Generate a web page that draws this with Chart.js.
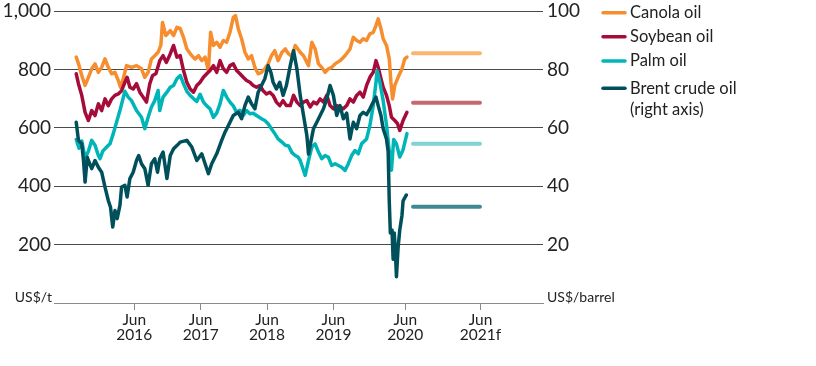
<!DOCTYPE html>
<html>
<head>
<meta charset="utf-8">
<script src="https://cdn.jsdelivr.net/npm/chart.js@4"></script>
<style>
  html, body { margin: 0; padding: 0; background: #fff; }
  #wrap { width: 816px; height: 366px; }
</style>
</head>
<body>
<div id="wrap"><canvas id="oils" width="816" height="366"></canvas></div>
<script>
// x values are months counted from Jan 2015 (0 = Jan 2015)
var tickPos = [17, 29, 41, 53, 66, 79.6];
var tickLabels = [['Jun', '2016'], ['Jun', '2017'], ['Jun', '2018'], ['Jun', '2019'], ['Jun', '2020'], ['Jun', '2021f']];

var canolaX = [6.5, 6.9, 7.5, 8.1, 8.7, 9.3, 9.9, 10.5, 11.1, 11.7, 12.3, 12.9, 13.5, 14.1, 14.5, 15.0, 15.6, 16.5, 17.4, 18.3,
    18.9, 19.5, 20.1, 20.7, 21.3, 21.8, 22.1, 22.7, 23.5, 24.1, 24.7, 25.3, 25.9, 26.5, 27.4, 28.0, 28.6, 29.2, 29.8, 30.4,
    30.8, 31.3, 31.9, 32.5, 33.1, 33.7, 34.3, 34.9, 35.3, 35.8, 36.4, 37.0, 37.6, 38.2, 38.8, 39.4, 40.0, 40.6, 41.2, 41.8,
    42.4, 43.0, 43.7, 44.3, 44.9, 45.5, 46.1, 47.0, 47.6, 48.5, 49.1, 49.7, 50.3, 50.9, 51.5, 52.1, 52.7, 53.3, 54.2, 55.1,
    56.0, 56.6, 57.2, 57.8, 58.4, 59.0, 59.6, 60.2, 60.7, 61.1, 61.6, 62.0, 62.6, 63.1, 63.4, 63.7, 64.1, 64.7, 65.4, 65.9, 66.3];
var canolaY = [842, 820, 779, 745, 773, 802, 819, 790, 807, 836, 807, 785, 790, 762, 739, 768, 813, 807, 813, 802,
    773, 790, 836, 847, 859, 882, 961, 916, 933, 916, 944, 940, 910, 870, 847, 836, 847, 830, 842, 796,
    927, 882, 893, 876, 899, 893, 927, 978, 984, 939, 905, 859, 836, 847, 807, 785, 790, 802, 819, 847,
    864, 830, 859, 870, 853, 845, 882, 859, 847, 813, 893, 870, 819, 807, 790, 802, 807, 819, 830, 847,
    870, 910, 899, 893, 905, 899, 922, 927, 950, 973, 939, 905, 882, 836, 756, 699, 745, 773, 802, 836, 842];

var soyX = [6.5, 6.9, 7.5, 8.1, 8.7, 9.3, 9.9, 10.5, 11.1, 11.7, 12.3, 12.9, 13.5, 14.1, 14.7, 15.3, 15.7, 16.2, 16.8, 17.4,
    18.0, 18.6, 19.2, 19.8, 20.3, 20.9, 21.6, 22.2, 22.8, 23.5, 24.1, 24.7, 25.3, 25.9, 26.5, 27.1, 27.7, 28.3, 28.9, 29.5,
    30.1, 30.7, 31.3, 31.9, 32.5, 33.1, 33.7, 34.3, 34.9, 35.5, 36.1, 36.7, 37.3, 37.9, 38.5, 39.1, 39.7, 40.3, 40.9, 41.5,
    42.1, 42.7, 43.3, 43.9, 44.5, 45.2, 45.8, 46.4, 47.0, 47.6, 48.2, 48.8, 49.4, 50.0, 50.6, 51.2, 51.8, 52.4, 53.0, 53.6,
    54.2, 54.8, 55.4, 56.0, 56.6, 57.2, 57.8, 58.4, 59.0, 59.6, 60.2, 60.7, 61.1, 61.6, 62.0, 62.6, 63.1, 63.5, 64.1, 64.6,
    65.0, 65.6, 66.3];
var soyY = [785, 751, 711, 653, 625, 659, 642, 682, 659, 699, 676, 699, 711, 716, 727, 756, 773, 739, 733, 751,
    722, 705, 688, 751, 779, 785, 830, 847, 824, 853, 882, 842, 847, 796, 756, 733, 722, 745, 756, 773,
    785, 796, 813, 790, 830, 802, 790, 813, 819, 796, 785, 773, 762, 756, 745, 739, 745, 727, 716, 722,
    711, 688, 676, 693, 676, 676, 711, 688, 676, 688, 693, 671, 688, 682, 699, 688, 711, 676, 665, 676,
    671, 665, 676, 699, 688, 711, 722, 705, 745, 773, 790, 830, 807, 768, 739, 711, 676, 636, 625, 614,
    591, 625, 653];

var palmX = [6.5, 7.0, 7.5, 8.1, 8.7, 9.3, 9.9, 10.5, 10.8, 11.3, 12.0, 12.6, 13.2, 13.8, 14.4, 15.3, 15.9, 16.5, 17.4, 18.3,
    18.9, 19.5, 20.1, 20.7, 21.3, 21.6, 22.2, 22.9, 23.5, 24.1, 24.7, 25.3, 25.9, 26.5, 27.1, 27.7, 28.3, 28.9, 29.5, 30.1,
    30.7, 31.3, 31.9, 32.5, 33.1, 33.7, 34.3, 34.9, 35.5, 36.1, 36.7, 37.3, 37.9, 38.5, 39.1, 40.0, 40.6, 41.2, 41.8, 42.4,
    43.0, 43.7, 44.3, 44.9, 45.5, 46.1, 46.6, 47.0, 47.6, 47.9, 48.5, 49.1, 49.7, 50.3, 50.9, 51.5, 52.1, 52.7, 53.3, 53.9,
    54.5, 55.1, 55.7, 56.3, 56.9, 57.5, 58.1, 59.0, 59.6, 60.2, 60.7, 60.9, 61.4, 62.0, 62.6, 63.1, 63.5, 63.9, 64.4, 65.0,
    65.6, 66.3];
var palmY = [560, 530, 555, 497, 520, 557, 540, 505, 494, 520, 534, 545, 580, 620, 659, 725, 705, 693, 659, 636,
    597, 636, 671, 693, 728, 659, 705, 722, 739, 745, 768, 779, 751, 725, 711, 700, 690, 715, 688, 675,
    665, 636, 650, 682, 728, 705, 688, 675, 653, 660, 642, 659, 648, 650, 642, 631, 625, 614, 597, 580,
    562, 551, 540, 538, 515, 505, 500, 488, 454, 437, 488, 534, 545, 517, 494, 505, 499, 471, 477, 471,
    465, 454, 477, 505, 522, 511, 545, 562, 608, 676, 756, 795, 756, 693, 610, 520, 455, 560, 545, 500,
    525, 580];

var brentX = [6.5, 6.9, 7.5, 7.8, 8.1, 8.5, 8.7, 9.3, 9.9, 10.5, 11.1, 11.7, 12.3, 12.7, 13.1, 13.5, 13.9, 14.4, 14.7, 15.3,
    15.7, 16.2, 16.8, 17.4, 17.8, 18.3, 18.9, 19.5, 20.1, 20.7, 21.2, 21.6, 22.2, 22.9, 23.5, 24.1, 24.7, 25.3, 26.5, 27.4,
    28.3, 29.2, 29.8, 30.4, 31.0, 31.9, 32.8, 33.4, 34.3, 34.9, 35.8, 36.4, 37.0, 37.6, 38.2, 38.8, 39.4, 40.0, 40.6, 41.2,
    41.7, 42.1, 42.7, 43.3, 43.9, 44.5, 45.2, 45.8, 46.4, 47.0, 47.6, 48.2, 48.5, 48.8, 49.4, 50.0, 50.6, 51.2, 51.8, 52.4,
    53.0, 53.6, 54.2, 54.8, 55.4, 56.0, 56.6, 57.2, 57.8, 58.4, 59.0, 59.6, 60.2, 60.7, 61.1, 61.6, 62.0, 62.6, 62.9, 63.1,
    63.3, 63.6, 63.8, 64.0, 64.2, 64.4, 64.7, 65.0, 65.4, 65.6, 65.9, 66.2];
var brentY = [61.9, 55.7, 54.5, 49.1, 41.4, 49.9, 48.8, 46.0, 48.8, 46.5, 44.8, 39.7, 35.1, 32.8, 26.0, 31.7, 28.9, 33.4, 39.7, 40.3,
    36.3, 42.6, 44.8, 48.8, 50.5, 47.7, 46.0, 40.3, 47.7, 49.4, 44.8, 49.4, 51.7, 42.6, 50.5, 52.8, 53.9, 55.1, 55.7, 53.4,
    48.8, 51.1, 47.7, 44.3, 47.7, 51.1, 55.7, 58.5, 61.9, 64.2, 65.3, 63.1, 67.6, 70.5, 68.2, 66.5, 72.2, 74.5, 76.8, 81.3,
    79.0, 75.6, 73.3, 75.6, 71.1, 74.5, 81.3, 86.4, 80.2, 71.1, 64.2, 57.4, 51.0, 54.0, 59.7, 61.9, 64.2, 66.5, 69.9, 74.5,
    71.1, 64.2, 67.6, 63.1, 65.0, 56.2, 61.9, 59.7, 64.2, 65.3, 64.5, 66.5, 68.8, 70.5, 67.6, 64.2, 59.7, 56.2, 52.0, 35.0,
    24.0, 25.0, 15.0, 24.0, 18.0, 9.0, 19.0, 25.0, 30.0, 35.0, 36.0, 37.0];

// 2021 forecasts
var forecastX = [67.4, 79.5];
var canolaF = 855;
var soyF = 686;
var palmF = 545;
var brentF = 33;

var legendLabels = [['Canola oil'], ['Soybean oil'], ['Palm oil'], ['Brent crude oil', '(right axis)']];
var unitLeft = 'US$/t';
var unitRight = 'US$/barrel';

var FONT = 'Lato, "Open Sans", sans-serif';
var INK = '#222';
var colors = ['#f68d2e', '#a50c3a', '#00b5b8', '#00505c'];
var lightColors = ['#fdb46e', '#c46a6e', '#80d2d3', '#3d8a95'];

function pairs(xs, ys) {
    return xs.map(function(x, i) { return { x: x, y: ys[i] }; });
}

function series(label, xs, ys, color, axis, order) {
    return {
        label: label,
        data: pairs(xs, ys),
        borderColor: color,
        borderWidth: 3.5,
        borderJoinStyle: 'round',
        borderCapStyle: 'round',
        pointRadius: 0,
        tension: 0,
        yAxisID: axis,
        order: order
    };
}

function forecast(value, color, axis) {
    return {
        label: 'forecast',
        data: pairs(forecastX, [value, value]),
        borderColor: color,
        borderWidth: 4,
        borderCapStyle: 'round',
        pointRadius: 0,
        yAxisID: axis,
        order: 5
    };
}

var unitLabels = {
    id: 'unitLabels',
    afterDraw: function(chart) {
        var c = chart.ctx;
        var y0 = chart.scales.y.getPixelForValue(0);
        c.save();
        c.fillStyle = INK;
        c.font = '14px ' + FONT;
        c.textBaseline = 'alphabetic';
        c.textAlign = 'right';
        c.fillText(unitLeft, chart.chartArea.left - 2, y0 - 1);
        c.textAlign = 'left';
        c.fillText(unitRight, chart.chartArea.right + 4, y0 - 1);
        c.restore();
    }
};

var sideLegend = {
    id: 'sideLegend',
    afterDraw: function(chart) {
        var c = chart.ctx;
        var rows = [12.7, 36.7, 61, 88.3];
        c.save();
        c.font = '16.5px ' + FONT;
        c.textBaseline = 'middle';
        c.textAlign = 'left';
        legendLabels.forEach(function(lines, i) {
            c.strokeStyle = colors[i];
            c.lineWidth = 3.5;
            c.lineCap = 'round';
            c.beginPath();
            c.moveTo(603, rows[i]);
            c.lineTo(625, rows[i]);
            c.stroke();
            c.fillStyle = INK;
            lines.forEach(function(t, j) {
                c.fillText(t, 630, rows[i] + j * 21);
            });
        });
        c.restore();
    }
};

var oilChart = new Chart(document.getElementById('oils'), {
    type: 'line',
    data: {
        datasets: [
            series('Canola oil', canolaX, canolaY, colors[0], 'y', 4),
            series('Soybean oil', soyX, soyY, colors[1], 'y', 3),
            series('Palm oil', palmX, palmY, colors[2], 'y', 2),
            series('Brent crude oil (right axis)', brentX, brentY, colors[3], 'y2', 1),
            forecast(canolaF, lightColors[0], 'y'),
            forecast(soyF, lightColors[1], 'y'),
            forecast(palmF, lightColors[2], 'y'),
            forecast(brentF, lightColors[3], 'y2')
        ]
    },
    options: {
        responsive: false,
        animation: false,
        events: [],
        layout: { padding: { top: 11, left: 0, right: 0, bottom: 0 } },
        plugins: { legend: { display: false }, tooltip: { enabled: false } },
        scales: {
            x: {
                type: 'linear',
                min: 2.48,
                max: 90.9,
                afterBuildTicks: function(scale) {
                    scale.ticks = tickPos.map(function(v) { return { value: v }; });
                },
                afterFit: function(scale) {
                    scale.height = 63;
                    scale.paddingLeft = 0;
                    scale.paddingRight = 0;
                },
                grid: { drawOnChartArea: false, drawTicks: true, tickLength: 7, color: '#8a8a8a' },
                border: { display: true, color: '#8a8a8a' },
                ticks: {
                    padding: 2,
                    maxRotation: 0,
                    autoSkip: false,
                    color: INK,
                    font: { family: FONT, size: 15.5, lineHeight: 1 },
                    callback: function(v, i) { return tickLabels[i]; }
                }
            },
            y: {
                position: 'left',
                min: 0,
                max: 1000,
                afterFit: function(scale) {
                    scale.width = 54;
                    scale.paddingTop = 0;
                    scale.paddingBottom = 0;
                },
                grid: {
                    drawTicks: false,
                    color: function(ctx) { return ctx.tick && ctx.tick.value === 0 ? 'rgba(0,0,0,0)' : '#4a4a4a'; }
                },
                border: { display: false },
                ticks: {
                    stepSize: 200,
                    padding: 3,
                    color: INK,
                    font: { family: FONT, size: 19, lineHeight: 1 },
                    callback: function(v) { return v === 0 ? '' : v.toLocaleString('en-US'); }
                }
            },
            y2: {
                position: 'right',
                min: 0,
                max: 100,
                afterFit: function(scale) {
                    scale.width = 273;
                    scale.paddingTop = 0;
                    scale.paddingBottom = 0;
                },
                grid: { display: false, drawTicks: false },
                border: { display: false },
                ticks: {
                    stepSize: 20,
                    padding: 4,
                    color: INK,
                    font: { family: FONT, size: 19, lineHeight: 1 },
                    callback: function(v) { return v === 0 ? '' : v; }
                }
            }
        }
    },
    plugins: [unitLabels, sideLegend]
});
</script>
</body>
</html>
